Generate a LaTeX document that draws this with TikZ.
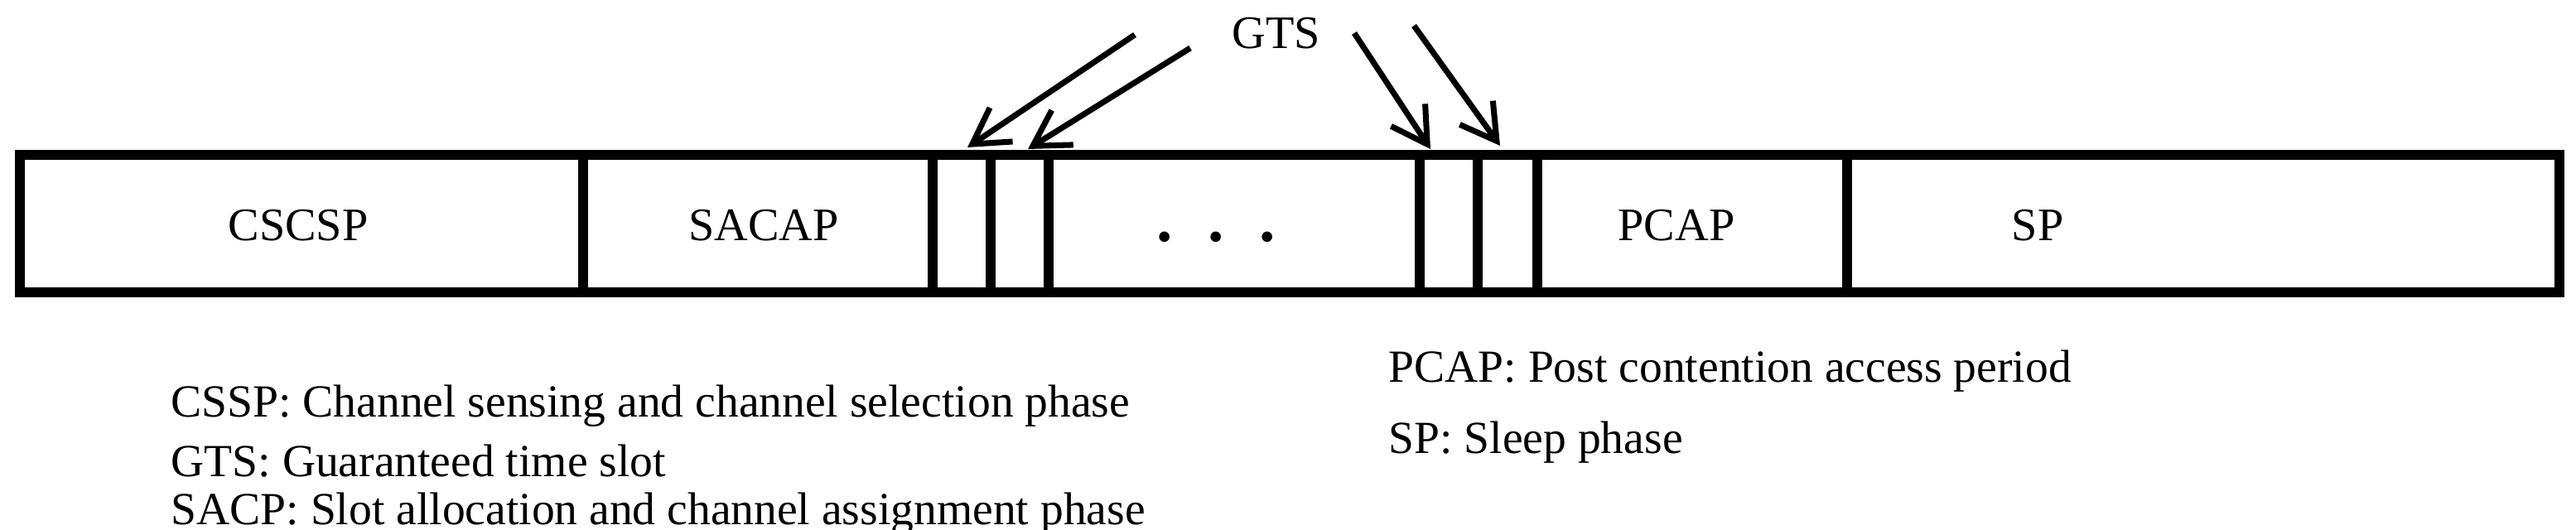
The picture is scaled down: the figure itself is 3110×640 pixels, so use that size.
\documentclass[tikz,border=0pt]{standalone}
\usepackage{fontspec}
\setmainfont{Liberation Serif}
\usetikzlibrary{arrows.meta}
\begin{document}
\begin{tikzpicture}[x=0.01cm,y=-0.01cm,
  bar/.style={line width=3.2pt},
  lbl/.style={font=\fontsize{16}{19}\selectfont},
  leg/.style={font=\fontsize{15.8}{19}\selectfont,anchor=west,inner sep=0pt},
  gts/.style={line width=2pt,-{Straight Barb[length=12pt,width=14pt,line width=2pt]}}]
\useasboundingbox (0,0) rectangle (3110,640);
\draw[bar] (24,187) rectangle (3090,353);
\foreach \x in {704,1126,1196,1266,1714,1784,1856,2230}
  \draw[bar] (\x,187) -- (\x,353);
\node[lbl] (a) at (360,272) {CSCSP};
\node[lbl] (b) at (922,272) {SACAP};
\node[lbl] (c) at (1468,286) {\fontsize{22}{24}\selectfont\textbf{.\hspace{0.55em}.\hspace{0.55em}.}};
\node[lbl] (d) at (2024,272) {PCAP};
\node[lbl] (e) at (2460,272) {SP};
\node[lbl] (g) at (1541,40) {GTS};
\coordinate (t1) at (1168,178);
\coordinate (t2) at (1241,180);
\coordinate (t3) at (1727,180);
\coordinate (t4) at (1811,176);
\draw[gts] (1370,42) -- (t1);
\draw[gts] (1437,58) -- (t2);
\draw[gts] (1635,40) -- (t3);
\draw[gts] (1707,31) -- (t4);
\node[leg] (l1) at (206,490) {CSSP: Channel sensing and channel selection phase};
\node[leg] (l2) at (206,557) {GTS: Guaranteed time slot};
\node[leg] (l3) at (206,620) {SACP: Slot allocation and channel assignment phase};
\node[leg] (l4) at (1676,448) {PCAP: Post contention access period};
\node[leg] (l5) at (1676,534) {SP: Sleep phase};
\end{tikzpicture}
\end{document}
